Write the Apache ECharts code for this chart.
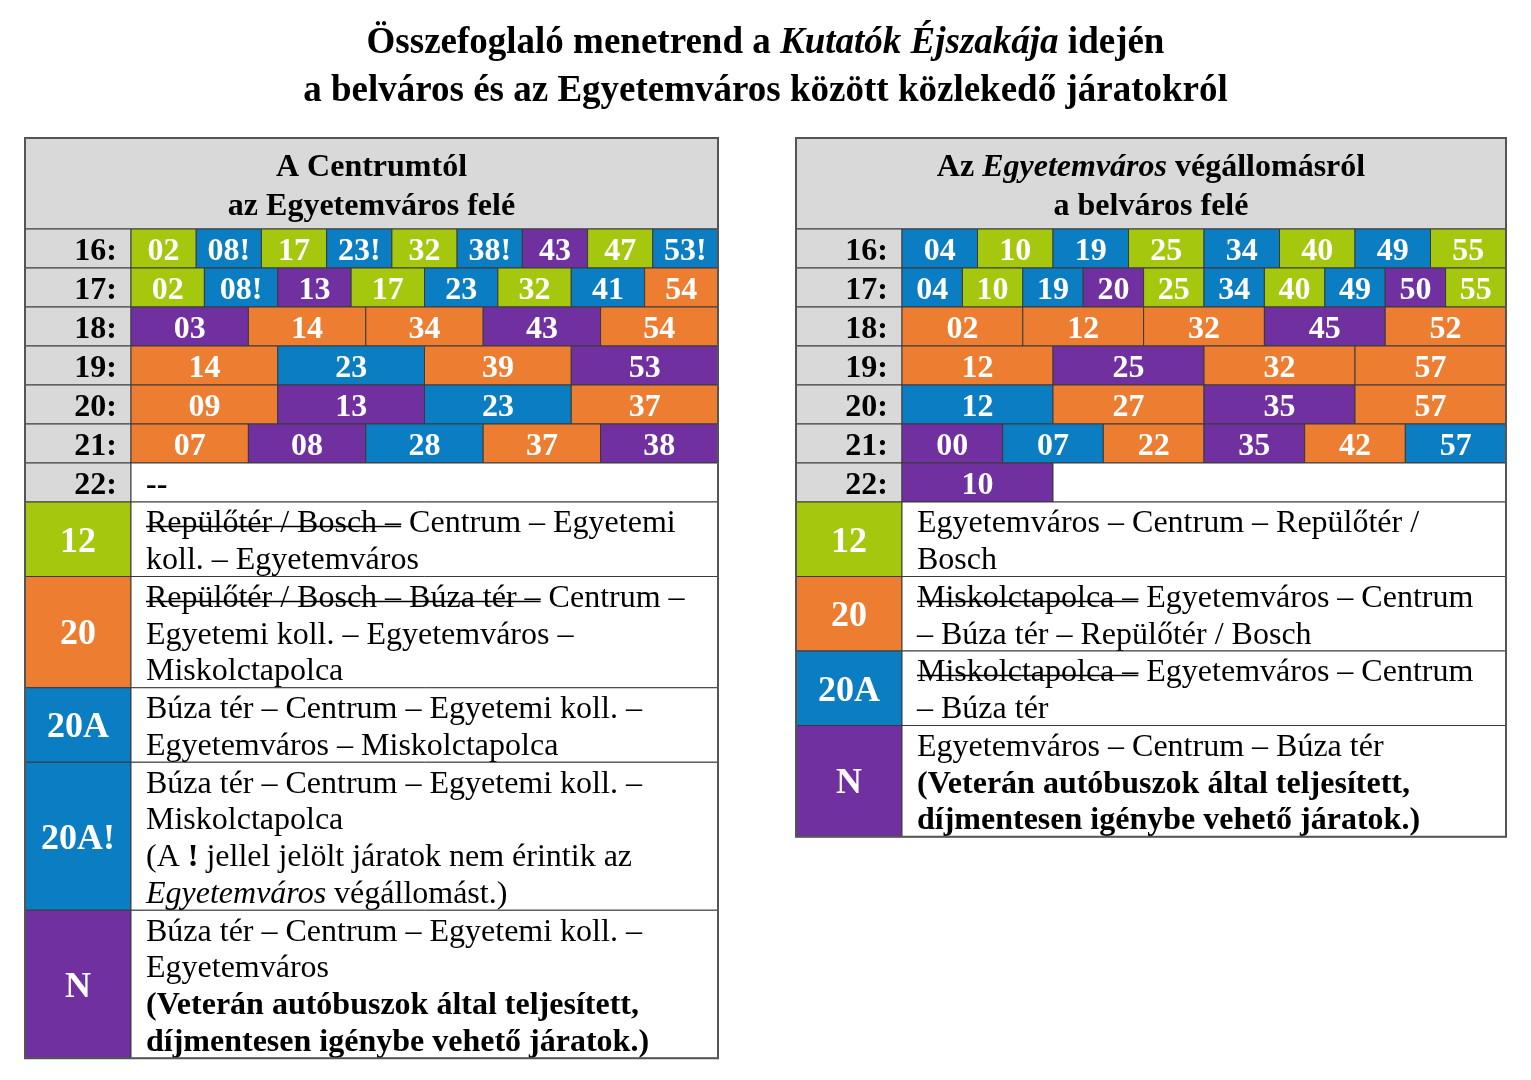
<!DOCTYPE html>
<html>
<head>
<meta charset="utf-8">
<script src="https://cdn.jsdelivr.net/npm/echarts@6/dist/echarts.min.js"></script>
<style>
  html, body { margin: 0; background: #fff; }
  #chart { width: 1531px; height: 1080px; }
</style>
</head>
<body>
<div id="chart"></div>
<script>
// órák (sorok)
const hours = ['16:', '17:', '18:', '19:', '20:', '21:', '22:']

// A Centrumtól az Egyetemváros felé
const outMinutes = [
  ['02', '08!', '17', '23!', '32', '38!', '43', '47', '53!'],
  ['02', '08!', '13', '17', '23', '32', '41', '54'],
  ['03', '14', '34', '43', '54'],
  ['14', '23', '39', '53'],
  ['09', '13', '23', '37'],
  ['07', '08', '28', '37', '38'],
  []
]
const outRoutes = [
  ['12', '20A!', '12', '20A!', '12', '20A!', 'N', '12', '20A!'],
  ['12', '20A!', 'N', '12', '20A', '12', '20A', '20'],
  ['N', '20', '20', 'N', '20'],
  ['20', '20A', '20', 'N'],
  ['20', 'N', '20A', '20'],
  ['20', 'N', '20A', '20', 'N'],
  []
]

// Az Egyetemváros végállomásról a belváros felé
const backMinutes = [
  ['04', '10', '19', '25', '34', '40', '49', '55'],
  ['04', '10', '19', '20', '25', '34', '40', '49', '50', '55'],
  ['02', '12', '32', '45', '52'],
  ['12', '25', '32', '57'],
  ['12', '27', '35', '57'],
  ['00', '07', '22', '35', '42', '57'],
  ['10']
]
const backRoutes = [
  ['20A', '12', '20A', '12', '20A', '12', '20A', '12'],
  ['20A', '12', '20A', 'N', '12', '20A', '12', '20A', 'N', '12'],
  ['20', '20', '20', 'N', '20'],
  ['20', 'N', '20', '20'],
  ['20A', '20', 'N', '20'],
  ['N', '20A', '20', 'N', '20', '20A'],
  ['N']
]

// fejlécek: [szöveg, stílus]  (b = félkövér, i = dőlt, s = áthúzott)
const outHeader = [
  [['A Centrumtól', 'b']],
  [['az Egyetemváros felé', 'b']]
]
const backHeader = [
  [['Az ', 'b'], ['Egyetemváros', 'bi'], [' végállomásról', 'b']],
  [['a belváros felé', 'b']]
]

// jelmagyarázat
const outLegendRoutes = ['12', '20', '20A', '20A!', 'N']
const outLegendText = [
  [[['Repülőtér / Bosch –', 's'], [' Centrum – Egyetemi', '']],
   [['koll. – Egyetemváros', '']]],
  [[['Repülőtér / Bosch – Búza tér –', 's'], [' Centrum –', '']],
   [['Egyetemi koll. – Egyetemváros –', '']],
   [['Miskolctapolca', '']]],
  [[['Búza tér – Centrum – Egyetemi koll. –', '']],
   [['Egyetemváros – Miskolctapolca', '']]],
  [[['Búza tér – Centrum – Egyetemi koll. –', '']],
   [['Miskolctapolca', '']],
   [['(A ', ''], ['!', 'b'], [' jellel jelölt járatok nem érintik az', '']],
   [['Egyetemváros', 'i'], [' végállomást.)', '']]],
  [[['Búza tér – Centrum – Egyetemi koll. –', '']],
   [['Egyetemváros', '']],
   [['(Veterán autóbuszok által teljesített,', 'b']],
   [['díjmentesen igénybe vehető járatok.)', 'b']]]
]
const backLegendRoutes = ['12', '20', '20A', 'N']
const backLegendText = [
  [[['Egyetemváros – Centrum – Repülőtér /', '']],
   [['Bosch', '']]],
  [[['Miskolctapolca –', 's'], [' Egyetemváros – Centrum', '']],
   [['– Búza tér – Repülőtér / Bosch', '']]],
  [[['Miskolctapolca –', 's'], [' Egyetemváros – Centrum', '']],
   [['– Búza tér', '']]],
  [[['Egyetemváros – Centrum – Búza tér', '']],
   [['(Veterán autóbuszok által teljesített,', 'b']],
   [['díjmentesen igénybe vehető járatok.)', 'b']]]
]

const routeColors = {
  '12': '#A5C80F',
  '20': '#ED7D31',
  '20A': '#0B7DC2',
  '20A!': '#0B7DC2',
  N: '#7030A0'
}

const FONT = 'Liberation Serif'
const labelW = 106
const headerH = 91
const hourH = 39
const lineH = 36.75

const mctx = document.createElement('canvas').getContext('2d')
function fontOf (st, size) {
  return (st.includes('i') ? 'italic ' : 'normal ') +
    (st.includes('b') ? 'bold ' : 'normal ') + size + 'px "' + FONT + '"'
}
function measure (text, st, size) {
  mctx.font = fontOf(st, size)
  return mctx.measureText(text).width
}

// szegmensekből álló sor kirajzolása
function segLine (segs, x, y, align, size) {
  const widths = segs.map(s => measure(s[0], s[1], size))
  const total = widths.reduce((a, b) => a + b, 0)
  let cx = align === 'center' ? x - total / 2 : x
  const out = []
  segs.forEach((s, i) => {
    out.push({
      type: 'text',
      style: {
        x: cx,
        y: y,
        text: s[0],
        fill: '#000',
        font: fontOf(s[1], size),
        align: 'left',
        verticalAlign: 'middle'
      }
    })
    if (s[1].includes('s')) {
      const ly = Math.round(y + 2) + 0.5
      out.push({
        type: 'line',
        shape: { x1: cx, y1: ly, x2: cx + widths[i], y2: ly },
        style: { stroke: '#000', lineWidth: 1.4 }
      })
    }
    cx += widths[i]
  })
  return out
}

function buildItems (width, header, minutes, routes, legendRoutes, legendText) {
  const items = []
  items.push({ kind: 'header', x0: 0, x1: width, y0: 0, y1: headerH, lines: header })
  let y = headerH
  const dataW = width - labelW
  hours.forEach((h, r) => {
    items.push({ kind: 'hour', x0: 0, x1: labelW, y0: y, y1: y + hourH, text: h })
    const n = minutes[r].length
    if (n === 0) {
      items.push({ kind: 'empty', x0: labelW, x1: width, y0: y, y1: y + hourH, text: '--' })
    } else {
      const slots = Math.max(n, 4)
      const cw = dataW / slots
      minutes[r].forEach((m, i) => {
        items.push({
          kind: 'cell',
          x0: labelW + i * cw,
          x1: labelW + (i + 1) * cw,
          y0: y,
          y1: y + hourH,
          text: m,
          fill: routeColors[routes[r][i]]
        })
      })
      if (n < slots) {
        items.push({ kind: 'empty', x0: labelW + n * cw, x1: width, y0: y, y1: y + hourH, text: '' })
      }
    }
    y += hourH
  })
  legendRoutes.forEach((rt, i) => {
    const hh = legendText[i].length * lineH + 1
    items.push({ kind: 'route', x0: 0, x1: labelW, y0: y, y1: y + hh, text: rt, fill: routeColors[rt] })
    items.push({ kind: 'desc', x0: labelW, x1: width, y0: y, y1: y + hh, lines: legendText[i] })
    y += hh
  })
  items.push({ kind: 'frame', x0: 0, x1: width, y0: 0, y1: y })
  return { items, height: y }
}

function renderer (items) {
  return function (params, api) {
    const it = items[params.dataIndex]
    const a = api.coord([it.x0, it.y0])
    const b = api.coord([it.x1, it.y1])
    const x = a[0]
    const y = a[1]
    const w = b[0] - a[0]
    const h = b[1] - a[1]
    if (it.kind === 'frame') {
      return {
        type: 'rect',
        z2: 10,
        shape: { x, y, width: w, height: h },
        style: { fill: 'none', stroke: '#555', lineWidth: 2 }
      }
    }
    let fill = '#fff'
    if (it.kind === 'header' || it.kind === 'hour') fill = '#D9D9D9'
    if (it.kind === 'cell' || it.kind === 'route') fill = it.fill
    const children = [{
      type: 'rect',
      shape: { x, y, width: w, height: h },
      style: { fill, stroke: '#3a3a3a', lineWidth: 1 }
    }]
    if (it.kind === 'cell' || it.kind === 'route') {
      children.push({
        type: 'text',
        style: {
          x: x + w / 2,
          y: y + h / 2 + 3,
          text: it.text,
          fill: '#fff',
          font: fontOf('b', it.kind === 'route' ? 36 : 32),
          align: 'center',
          verticalAlign: 'middle'
        }
      })
    } else if (it.kind === 'hour') {
      children.push({
        type: 'text',
        style: {
          x: x + w - 14,
          y: y + h / 2 + 3,
          text: it.text,
          fill: '#000',
          font: fontOf('b', 32),
          align: 'right',
          verticalAlign: 'middle'
        }
      })
    } else if (it.kind === 'empty' && it.text) {
      children.push({
        type: 'text',
        style: {
          x: x + 15,
          y: y + h / 2 + 3,
          text: it.text,
          fill: '#000',
          font: fontOf('b', 32),
          align: 'left',
          verticalAlign: 'middle'
        }
      })
    } else if (it.kind === 'header') {
      it.lines.forEach((ln, i) => {
        children.push(...segLine(ln, x + w / 2, y + 29.5 + i * 39, 'center', 32))
      })
    } else if (it.kind === 'desc') {
      it.lines.forEach((ln, i) => {
        children.push(...segLine(ln, x + 15, y + 22 + i * lineH, 'left', 32))
      })
    }
    return { type: 'group', children }
  }
}

const outTable = buildItems(693, outHeader, outMinutes, outRoutes, outLegendRoutes, outLegendText)
const backTable = buildItems(710, backHeader, backMinutes, backRoutes, backLegendRoutes, backLegendText)

const chart = echarts.init(document.getElementById('chart'), null, { renderer: 'canvas' })

const titleStyle = {
  fontFamily: FONT,
  fontSize: 37,
  fontWeight: 'bold',
  color: '#000',
  rich: {
    bi: { fontFamily: FONT, fontSize: 37, fontWeight: 'bold', fontStyle: 'italic', color: '#000' }
  }
}

chart.setOption({
  animation: false,
  backgroundColor: '#fff',
  title: [
    {
      text: 'Összefoglaló menetrend a {bi|Kutatók Éjszakája} idején',
      left: 'center',
      top: 25,
      padding: 0,
      textStyle: titleStyle
    },
    {
      text: 'a belváros és az Egyetemváros között közlekedő járatokról',
      left: 'center',
      top: 73,
      padding: 0,
      textStyle: titleStyle
    }
  ],
  grid: [
    { left: 25, top: 138, width: 693, height: outTable.height },
    { left: 796, top: 138, width: 710, height: backTable.height }
  ],
  xAxis: [
    { type: 'value', gridIndex: 0, min: 0, max: 693, show: false },
    { type: 'value', gridIndex: 1, min: 0, max: 710, show: false }
  ],
  yAxis: [
    { type: 'value', gridIndex: 0, min: 0, max: outTable.height, inverse: true, show: false },
    { type: 'value', gridIndex: 1, min: 0, max: backTable.height, inverse: true, show: false }
  ],
  series: [
    {
      type: 'custom',
      xAxisIndex: 0,
      yAxisIndex: 0,
      renderItem: renderer(outTable.items),
      encode: { x: [0, 2], y: [1, 3] },
      data: outTable.items.map(it => [it.x0, it.y0, it.x1, it.y1]),
      clip: false
    },
    {
      type: 'custom',
      xAxisIndex: 1,
      yAxisIndex: 1,
      renderItem: renderer(backTable.items),
      encode: { x: [0, 2], y: [1, 3] },
      data: backTable.items.map(it => [it.x0, it.y0, it.x1, it.y1]),
      clip: false
    }
  ]
})
</script>
</body>
</html>
